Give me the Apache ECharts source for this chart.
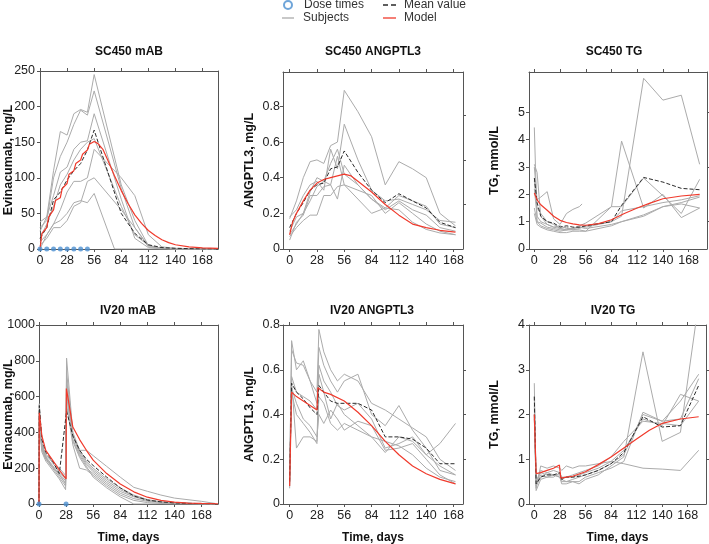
<!DOCTYPE html>
<html><head><meta charset="utf-8">
<script src="https://cdn.jsdelivr.net/npm/echarts@6/dist/echarts.min.js"></script>
<style>html,body{margin:0;padding:0;background:#fff}#c{width:709px;height:544px}</style>
</head><body><div id="c"></div><script>
// ---------- DATA ----------
const dayTicks = [0, 28, 56, 84, 112, 140, 168];

// SC450 mAB (Evinacumab, mg/L)
const sc450MabTimes = [0, 7, 14, 21, 28, 35, 42, 49, 56, 77, 84, 98, 112, 126, 140, 168, 182];
const sc450MabS1 = [38, 45, 110, 165, 160, 190, 196, 192, 245, null, 90, 40, 5, 1, 0, 0, 0];
const sc450MabS2 = [30, 40, 100, 130, 150, 175, 195, 188, 222, null, 85, 30, 3, 1, 0, 0, 0];
const sc450MabS3 = [25, 45, 75, 108, 115, 140, 150, 152, 190, null, 70, 15, 2, 0, 0, 0, 0];
const sc450MabS4 = [15, 35, 60, 90, 105, 125, 140, 150, 155, null, 60, 20, 5, 1, 0, 0, 0];
const sc450MabS5 = [10, 20, 35, 55, 80, 95, 95, 100, 140, null, 100, 75, 20, 3, 1, 0, 0];
const sc450MabS6 = [0, 20, 35, 40, 50, 65, 68, 65, 78, 0, 0, 0, 0, 0, 0, 0, 0];
const sc450MabS7 = [5, 15, 30, 30, 40, 60, 65, 95, 100, null, 55, 30, 5, 1, 0, 0, 0];
const sc450MabMean = [15, 30, 69, 80, 97, 110, 120, 139, 167, null, 50, 22, 6, 2, 1, 0, 0];
const sc450MabModelTimes = [0, 2, 7, 9, 14, 16, 21, 23, 28, 30, 35, 37, 42, 44, 49, 51, 56, 60, 65, 70, 77, 84, 91, 98, 105, 112, 119, 126, 133, 140, 154, 168, 184];
const sc450MabModel = [0, 22, 30, 45, 55, 68, 72, 85, 92, 105, 110, 120, 125, 133, 139, 147, 151, 148, 140, 125, 103, 82, 64, 48, 36, 26, 19, 13, 9, 6, 3, 1.5, 1];
const sc450Doses = [0, 7, 14, 21, 28, 35, 42, 49];

// SC450 ANGPTL3 (mg/L)
const sc450AngTimes = [0, 7, 14, 21, 28, 35, 42, 49, 56, 70, 84, 98, 112, 126, 140, 154, 170];
const sc450AngS1 = [0.17, 0.27, 0.40, 0.49, 0.50, 0.48, 0.58, 0.60, 0.89, 0.77, 0.63, 0.36, 0.49, 0.45, 0.40, 0.20, 0.13];
const sc450AngS2 = [0.18, 0.22, 0.30, 0.36, 0.38, 0.33, 0.56, 0.45, 0.70, 0.50, 0.33, 0.27, 0.28, 0.25, 0.22, 0.16, 0.15];
const sc450AngS3 = [0.05, 0.15, 0.19, 0.30, 0.30, 0.35, 0.36, 0.28, 0.47, 0.36, 0.28, 0.22, 0.27, 0.22, 0.19, 0.12, 0.10];
const sc450AngS4 = [0.10, 0.18, 0.20, 0.27, 0.35, 0.38, 0.36, 0.52, 0.36, 0.33, 0.30, 0.20, 0.26, 0.20, 0.14, 0.10, 0.08];
const sc450AngS5 = [0.08, 0.14, 0.20, 0.32, 0.40, 0.38, 0.48, 0.56, 0.42, 0.36, 0.28, 0.23, 0.30, 0.27, 0.24, 0.14, 0.12];
const sc450AngS6 = [0.07, 0.12, 0.16, 0.19, 0.19, 0.30, 0.30, 0.35, 0.36, 0.28, 0.20, 0.23, 0.22, 0.15, 0.11, 0.09, 0.08];
const sc450AngMean = [0.12, 0.20, 0.26, 0.33, 0.36, 0.37, 0.45, 0.46, 0.55, 0.43, 0.33, 0.26, 0.31, 0.27, 0.23, 0.15, 0.12];
const sc450AngModelTimes = [0, 3, 7, 14, 21, 28, 35, 42, 49, 56, 63, 70, 84, 98, 112, 126, 140, 154, 170];
const sc450AngModel = [0.08, 0.15, 0.20, 0.27, 0.33, 0.37, 0.39, 0.40, 0.41, 0.42, 0.41, 0.38, 0.32, 0.25, 0.19, 0.14, 0.12, 0.105, 0.095];

// SC450 TG (mmol/L)
const sc450TgTimes = [0, 3, 7, 14, 21, 28, 35, 42, 49, 52, 56, 84, 95, 119, 140, 160, 180];
const sc450TgS1 = [3.1, 2.8, 1.2, 0.9, 0.8, 0.85, 0.75, 0.75, 0.8, null, 0.8, 1.0, 1.2, 6.25, 5.45, 5.63, 3.1];
const sc450TgS2 = [4.45, 1.0, 0.95, 0.8, 0.75, 0.7, 0.7, 0.75, 0.8, null, 0.75, 0.9, 1.0, 1.25, 1.55, 1.7, 1.9];
const sc450TgS3 = [3.0, 1.8, 1.9, 2.1, 1.1, 0.9, 1.3, 1.45, 1.55, 1.65, null, null, null, null, null, null, null];
const sc450TgS4 = [2.2, 1.2, 1.0, 0.9, 0.8, 0.75, 0.7, 0.75, 0.85, null, 0.95, 1.55, 3.95, 1.5, 2.0, 1.15, 1.5];
const sc450TgS5 = [2.5, 1.5, 1.3, 1.0, 0.9, 0.75, 0.8, 0.7, 0.7, null, 0.65, 1.55, 1.55, 2.6, 1.95, 1.3, 2.55];
const sc450TgS6 = [1.3, 0.9, 0.8, 0.7, 0.65, 0.6, 0.6, 0.65, 0.65, null, 0.65, 0.85, 1.0, 1.2, 1.55, 1.65, 1.5];
const sc450TgS7 = [1.5, 1.0, 0.85, 0.75, 0.7, 0.65, 0.7, 0.7, 0.75, null, 0.85, 1.0, 1.4, 1.55, 1.7, 1.8, 1.95];
const sc450TgMean = [2.6, 1.7, 1.2, 1.0, 0.95, 0.8, 0.85, 0.8, 0.8, null, 0.85, 1.0, 1.6, 2.62, 2.45, 2.22, 2.17];
const sc450TgModelTimes = [0, 3, 7, 14, 21, 28, 35, 42, 49, 56, 70, 84, 98, 112, 126, 140, 160, 180];
const sc450TgModel = [2.05, 1.8, 1.62, 1.42, 1.2, 1.05, 0.97, 0.92, 0.88, 0.87, 0.93, 1.07, 1.3, 1.5, 1.68, 1.84, 1.94, 2.0];

// IV20 mAB (Evinacumab, mg/L)
const iv20MabTimes = [0, 0.3, 3, 7, 14, 21, 27.5, 28.5, 35, 42, 49, 56, 70, 84, 98, 112, 126, 140, 168, 182];
const iv20MabS1 = [0, 560, 330, 280, 230, 180, 140, 815, 400, 300, 240, 200, 140, 90, 50, 25, 12, 6, 2, 1];
const iv20MabS2 = [0, 500, 320, 260, 210, 160, 120, 700, 380, 280, 220, 180, 120, 70, 40, 20, 10, 5, 2, 1];
const iv20MabS3 = [0, 480, 300, 250, 200, 150, 100, 620, 350, 260, 200, 170, 110, 60, 30, 15, 8, 4, 1, 0];
const iv20MabS4 = [0, 450, 290, 240, 190, 140, 80, 560, 330, 200, 190, 160, 100, 50, 20, 8, 3, 1, 0, 0];
const iv20MabS5 = [0, 520, 340, 270, 240, 200, 160, 600, 380, 300, 300, 270, 210, 150, 93, 71, 50, 33, 15, 3];
const iv20MabS6 = [0, 470, 310, 255, 205, 165, 110, 660, 360, 270, 210, 150, 90, 40, 0, 0, 0, 0, 0, 0];
const iv20MabS7 = [0, 540, 320, 265, 215, 170, 130, 740, 390, 290, 230, 190, 130, 80, 45, 22, 11, 5, 1, 0];
const iv20MabMean = [0, 550, 360, 290, 240, 170, null, 520, 380, 300, 250, 215, 150, 90, 45, 22, 12, 6, 2, 1];
const iv20MabModelTimes = [0, 0.3, 3, 7, 14, 21, 28, 28.3, 35, 42, 49, 56, 70, 84, 98, 112, 126, 140, 154, 168, 185];
const iv20MabModel = [0, 510, 380, 300, 245, 190, 140, 645, 430, 360, 300, 245, 170, 112, 68, 38, 20, 10, 5, 3, 1];
const iv20Doses = [0, 28];

// IV20 ANGPTL3 (mg/L)
const iv20AngTimes = [0, 2, 7, 14, 21, 28, 30, 35, 42, 49, 56, 70, 84, 98, 112, 126, 140, 154, 170];
const iv20AngS1 = [0.10, 0.73, 0.60, 0.64, 0.55, 0.50, 0.78, 0.68, 0.60, 0.55, 0.58, 0.55, 0.45, 0.42, 0.38, 0.34, 0.30, 0.20, 0.15];
const iv20AngS2 = [0.12, 0.69, 0.63, 0.62, 0.55, 0.45, 0.70, 0.62, 0.55, 0.50, 0.55, 0.58, 0.40, 0.35, 0.44, 0.33, 0.25, 0.15, 0.13];
const iv20AngS3 = [0.08, 0.57, 0.50, 0.48, 0.46, 0.42, 0.62, 0.55, 0.50, 0.44, 0.42, 0.45, 0.38, 0.25, 0.27, 0.30, 0.22, 0.17, 0.13];
const iv20AngS4 = [0.07, 0.55, 0.25, 0.30, 0.30, 0.28, 0.58, 0.50, 0.38, 0.45, 0.40, 0.35, 0.30, 0.23, 0.30, 0.28, 0.22, 0.27, 0.36];
const iv20AngS5 = [0.10, 0.52, 0.45, 0.38, 0.35, 0.30, 0.40, 0.36, 0.42, 0.38, 0.33, 0.37, 0.35, 0.24, 0.25, 0.27, 0.20, 0.13, 0.09];
const iv20AngS6 = [0.14, 0.50, 0.40, 0.36, 0.32, 0.27, 0.48, 0.45, 0.36, 0.33, 0.36, 0.33, 0.30, 0.28, 0.26, 0.22, 0.16, 0.12, 0.10];
const iv20AngMean = [0.10, 0.54, 0.50, 0.47, 0.43, 0.40, 0.53, 0.50, 0.46, 0.45, 0.45, 0.45, 0.42, 0.30, 0.30, 0.29, 0.25, 0.18, 0.18];
const iv20AngModelTimes = [0, 2, 7, 14, 21, 28, 29, 35, 42, 56, 70, 84, 98, 112, 126, 140, 154, 170];
const iv20AngModel = [0.08, 0.50, 0.48, 0.46, 0.44, 0.42, 0.52, 0.50, 0.49, 0.46, 0.41, 0.35, 0.28, 0.22, 0.17, 0.135, 0.11, 0.09];

// IV20 TG (mmol/L)
const iv20TgTimes = [0, 2, 7, 14, 21, 28, 30, 35, 42, 49, 56, 70, 84, 98, 119, 140, 160, 180];
const iv20TgS1 = [2.7, 0.35, 0.85, 0.80, 0.85, 0.80, 0.75, 0.85, 0.80, 0.85, 0.85, 0.90, 0.95, 0.90, 0.80, 0.78, 0.75, 1.20];
const iv20TgS2 = [2.4, 0.50, 0.70, 0.65, 0.65, 0.60, 0.50, 0.50, 0.50, 0.45, 0.55, 0.65, 0.85, 1.05, 3.40, 1.40, 1.60, 4.50];
const iv20TgS3 = [2.0, 0.30, 0.55, 0.60, 0.65, 0.60, 0.45, 0.45, 0.50, 0.50, 0.60, 0.70, 0.80, 0.95, 2.05, 1.85, 2.30, 2.90];
const iv20TgS4 = [1.9, 0.45, 0.65, 0.60, 0.60, 0.70, 0.55, 0.60, 0.60, 0.65, 0.70, 0.80, 0.95, 1.20, 1.90, 1.75, 2.45, 2.30];
const iv20TgS5 = [2.2, 0.40, 0.60, 0.70, 0.65, 0.65, 0.55, 0.50, 0.55, 0.60, 0.65, 0.75, 0.90, 1.10, 2.00, 1.85, 1.90, 2.80];
const iv20TgS6 = [2.0, 0.50, 0.75, 0.70, 0.75, 0.70, 0.60, 0.60, 0.65, 0.70, 0.75, 0.85, 1.05, 1.40, 1.85, 1.80, 1.75, 2.30];
const iv20TgMean = [2.4, 0.45, 0.60, 0.65, 0.65, 0.70, 0.55, 0.60, 0.60, 0.62, 0.65, 0.75, 0.90, 1.15, 1.95, 1.72, 1.75, 2.65];
const iv20TgModelTimes = [0, 2, 7, 14, 21, 27.5, 29, 35, 42, 56, 70, 84, 98, 112, 126, 140, 160, 180];
const iv20TgModel = [2.0, 0.68, 0.70, 0.75, 0.80, 0.87, 0.58, 0.60, 0.62, 0.72, 0.88, 1.05, 1.25, 1.45, 1.65, 1.80, 1.90, 1.95];

// ---------- PANELS ----------
const panels = [
  {title: 'SC450 mAB', yName: 'Evinacumab, mg/L', xName: '', xRange: [0, 184], yRange: [0, 250], yLabels: [0, 50, 100, 150, 200, 250], yRight: [],
   times: sc450MabTimes, subjects: [sc450MabS1, sc450MabS2, sc450MabS3, sc450MabS4, sc450MabS5, sc450MabS6, sc450MabS7], mean: sc450MabMean,
   modelTimes: sc450MabModelTimes, model: sc450MabModel, doses: sc450Doses},
  {title: 'SC450 ANGPTL3', yName: 'ANGPTL3, mg/L', xName: '', xRange: [-6.8, 177.7], yRange: [0, 0.993], yLabels: [0, 0.2, 0.4, 0.6, 0.8], yRight: [0.25, 0.5, 0.75],
   times: sc450AngTimes, subjects: [sc450AngS1, sc450AngS2, sc450AngS3, sc450AngS4, sc450AngS5, sc450AngS6], mean: sc450AngMean,
   modelTimes: sc450AngModelTimes, model: sc450AngModel, doses: null},
  {title: 'SC450 TG', yName: 'TG, mmol/L', xName: '', xRange: [-5.8, 188], yRange: [0, 6.48], yLabels: [0, 1, 2, 3, 4, 5], yRight: [1, 3, 5],
   times: sc450TgTimes, subjects: [sc450TgS1, sc450TgS2, sc450TgS3, sc450TgS4, sc450TgS5, sc450TgS6, sc450TgS7], mean: sc450TgMean,
   modelTimes: sc450TgModelTimes, model: sc450TgModel, doses: null},
  {title: 'IV20 mAB', yName: 'Evinacumab, mg/L', xName: 'Time, days', xRange: [0, 185], yRange: [0, 1000], yLabels: [0, 200, 400, 600, 800, 1000], yRight: [],
   times: iv20MabTimes, subjects: [iv20MabS1, iv20MabS2, iv20MabS3, iv20MabS4, iv20MabS5, iv20MabS6, iv20MabS7], mean: iv20MabMean,
   modelTimes: iv20MabModelTimes, model: iv20MabModel, doses: iv20Doses},
  {title: 'IV20 ANGPTL3', yName: 'ANGPTL3, mg/L', xName: 'Time, days', xRange: [-6.8, 177.7], yRange: [0, 0.8], yLabels: [0, 0.2, 0.4, 0.6, 0.8], yRight: [0.2, 0.4, 0.6],
   times: iv20AngTimes, subjects: [iv20AngS1, iv20AngS2, iv20AngS3, iv20AngS4, iv20AngS5, iv20AngS6], mean: iv20AngMean,
   modelTimes: iv20AngModelTimes, model: iv20AngModel, doses: null},
  {title: 'IV20 TG', yName: 'TG, mmol/L', xName: 'Time, days', xRange: [-5.8, 188], yRange: [0, 4], yLabels: [0, 1, 2, 3, 4], yRight: [1, 2, 3],
   times: iv20TgTimes, subjects: [iv20TgS1, iv20TgS2, iv20TgS3, iv20TgS4, iv20TgS5, iv20TgS6], mean: iv20TgMean,
   modelTimes: iv20TgModelTimes, model: iv20TgModel, doses: null}
];

// ---------- LAYOUT ----------
const layouts = [
  {left: 40, top: 71, width: 178, height: 178, titleX: 129, titleY: 46, yGap: 25, yMargin: 5},
  {left: 283, top: 72, width: 180, height: 177, titleX: 373, titleY: 46, yGap: 27, yMargin: 3},
  {left: 529, top: 72, width: 178, height: 177, titleX: 614, titleY: 46, yGap: 28, yMargin: 4},
  {left: 39, top: 325, width: 179, height: 179, titleX: 128, titleY: 305, yGap: 24, yMargin: 4},
  {left: 283, top: 325, width: 180, height: 179, titleX: 372, titleY: 305, yGap: 27, yMargin: 3},
  {left: 529, top: 325, width: 177, height: 179, titleX: 613, titleY: 305, yGap: 28, yMargin: 4}
];

const FONT = "'Liberation Sans', Arial, Helvetica, sans-serif";
const AX = '#555';
const pairs = (t, v) => t.map((x, i) => [x, v[i]]).filter(p => p[1] != null);
const plain = v => String(v);

const grid = [], xAxis = [], yAxis = [], series = [], title = [];
panels.forEach((p, i) => {
  const L = layouts[i];
  grid.push({left: L.left, top: L.top, width: L.width, height: L.height, containLabel: false, outerBoundsMode: 'none'});
  title.push({text: p.title, left: L.titleX, top: L.titleY, textAlign: 'center', padding: 0,
    textStyle: {fontFamily: FONT, fontSize: 12, fontWeight: 'bold', color: '#111'}});
  const common = {type: 'value', gridIndex: i, splitLine: {show: false}, nameMoveOverlap: false,
    axisLine: {show: true, onZero: false, lineStyle: {color: AX, width: 1}}};
  xAxis.push(Object.assign({}, common, {position: 'bottom', min: p.xRange[0], max: p.xRange[1],
    axisTick: {show: true, length: 3, customValues: dayTicks, lineStyle: {color: AX}},
    axisLabel: {show: true, customValues: dayTicks, formatter: plain, fontFamily: FONT, fontSize: 12.5, color: '#222', margin: 5},
    name: p.xName, nameLocation: 'middle', nameGap: 27.5,
    nameTextStyle: {fontFamily: FONT, fontSize: 12, fontWeight: 'bold', color: '#111'}}));
  xAxis.push(Object.assign({}, common, {position: 'top', min: p.xRange[0], max: p.xRange[1],
    axisTick: {show: true, length: 3, customValues: dayTicks, lineStyle: {color: AX}},
    axisLabel: {show: false}}));
  yAxis.push(Object.assign({}, common, {position: 'left', min: p.yRange[0], max: p.yRange[1],
    axisTick: {show: true, length: 3, customValues: p.yLabels, lineStyle: {color: AX}},
    axisLabel: {show: true, customValues: p.yLabels, formatter: plain, fontFamily: FONT, fontSize: 12.5, color: '#222', margin: L.yMargin},
    name: p.yName, nameLocation: 'middle', nameGap: L.yGap,
    nameTextStyle: {fontFamily: FONT, fontSize: 12.5, fontWeight: 'bold', color: '#111'}}));
  yAxis.push(Object.assign({}, common, {position: 'right', min: p.yRange[0], max: p.yRange[1],
    axisTick: {show: p.yRight.length > 0, length: 3, customValues: p.yRight.length ? p.yRight : [p.yRange[0]], lineStyle: {color: AX}},
    axisLabel: {show: false}}));
  const xi = i * 2, yi = i * 2;
  p.subjects.forEach(s => series.push({name: 'Subjects', type: 'line', xAxisIndex: xi, yAxisIndex: yi,
    data: pairs(p.times, s), symbol: 'none', connectNulls: true, clip: true, z: 2,
    lineStyle: {color: '#ababab', width: 1}, itemStyle: {color: '#ababab'}}));
  series.push({name: 'Mean value', type: 'line', xAxisIndex: xi, yAxisIndex: yi,
    data: pairs(p.times, p.mean), symbol: 'none', connectNulls: true, clip: true, z: 3,
    lineStyle: {color: '#2a2a2a', width: 1, type: [4, 2]}, itemStyle: {color: '#2a2a2a'}});
  series.push({name: 'Model', type: 'line', xAxisIndex: xi, yAxisIndex: yi,
    data: pairs(p.modelTimes, p.model), symbol: 'none', clip: true, z: 4,
    lineStyle: {color: '#f03a2c', width: 1.2}, itemStyle: {color: '#f03a2c'}});
  if (p.doses) series.push({name: 'Dose times', type: 'scatter', xAxisIndex: xi, yAxisIndex: yi,
    data: p.doses.map(d => [d, 0]), symbol: 'circle', symbolSize: 5, clip: false, z: 5,
    itemStyle: {color: '#4b8fd0'}});
});

const legendText = pad => ({fontFamily: FONT, fontSize: 12, color: '#333', padding: [0, 0, 0, pad]});
const solidIcon = 'path://M0,0H12V1H0Z';
const dashIcon = 'path://M0,0H5V1H0Z M8,0H13V1H8Z';
const legend = [
  {data: [{name: 'Dose times', icon: 'emptyCircle'}], left: 283, top: -1, padding: 0, itemWidth: 8, itemHeight: 8, textStyle: legendText(7), selectedMode: false},
  {data: [{name: 'Subjects', icon: solidIcon}], left: 282, top: 12, padding: 0, itemWidth: 12, itemHeight: 1.3, symbolKeepAspect: false, textStyle: legendText(4), selectedMode: false},
  {data: [{name: 'Mean value', icon: dashIcon}], left: 383, top: -1, padding: 0, itemWidth: 13, itemHeight: 1.3, symbolKeepAspect: false, textStyle: legendText(3), selectedMode: false},
  {data: [{name: 'Model', icon: solidIcon}], left: 383, top: 12, padding: 0, itemWidth: 13, itemHeight: 1.3, symbolKeepAspect: false, textStyle: legendText(3), selectedMode: false}
];

const chart = echarts.init(document.getElementById('c'), null, {renderer: 'canvas'});
chart.setOption({animation: false, backgroundColor: '#fff', title, legend, grid, xAxis, yAxis, series});
</script></body></html>
